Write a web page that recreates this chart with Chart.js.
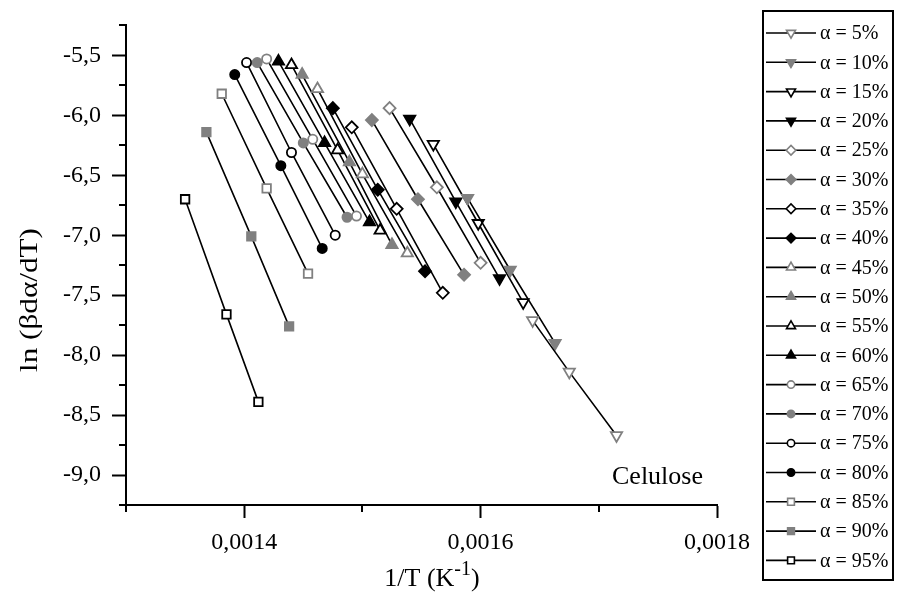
<!DOCTYPE html>
<html>
<head>
<meta charset="utf-8">
<script src="https://cdn.jsdelivr.net/npm/chart.js@4.4.1/dist/chart.umd.min.js"></script>
<style>
  html, body { margin: 0; background: #fff; }
  #wrap { width: 898px; height: 594px; position: relative; }
</style>
</head>
<body>
<div id="wrap"><canvas id="c"></canvas></div>
<script>
"use strict";
// Friedman plot, cellulose: ln(beta*dα/dT) vs 1/T for each conversion level.

const ALPHA_PCT = [5, 10, 15, 20, 25, 30, 35, 40, 45, 50, 55, 60, 65, 70, 75, 80, 85, 90, 95];

// 1/T (K^-1), three heating rates per conversion level
const INV_T = [
  [0.001644, 0.001675, 0.001715],
  [0.001589, 0.001625, 0.001663],
  [0.001560, 0.001598, 0.001636],
  [0.001540, 0.001579, 0.001616],
  [0.001523, 0.001563, 0.001600],
  [0.001508, 0.001547, 0.001586],
  [0.001491, 0.001529, 0.001568],
  [0.001475, 0.001513, 0.001553],
  [0.001462, 0.001500, 0.001538],
  [0.001449, 0.001489, 0.001525],
  [0.001440, 0.001479, 0.001515],
  [0.001429, 0.001468, 0.001506],
  [0.001419, 0.001458, 0.001495],
  [0.001411, 0.001450, 0.001487],
  [0.001402, 0.001440, 0.001477],
  [0.001392, 0.001431, 0.001466],
  [0.001381, 0.001419, 0.001454],
  [0.001368, 0.001406, 0.001438],
  [0.001350, 0.001385, 0.001412],
];

// ln(beta dα/dT)
const LN_RATE = [
  [-7.71, -8.14, -8.67],
  [-6.69, -7.29, -7.90],
  [-6.24, -6.90, -7.56],
  [-6.03, -6.72, -7.36],
  [-5.94, -6.60, -7.23],
  [-6.04, -6.70, -7.33],
  [-6.10, -6.78, -7.48],
  [-5.94, -6.62, -7.30],
  [-5.78, -6.49, -7.15],
  [-5.66, -6.39, -7.08],
  [-5.58, -6.29, -6.96],
  [-5.55, -6.23, -6.89],
  [-5.53, -6.20, -6.84],
  [-5.56, -6.23, -6.85],
  [-5.56, -6.31, -7.00],
  [-5.66, -6.42, -7.11],
  [-5.82, -6.61, -7.32],
  [-6.14, -7.01, -7.76],
  [-6.70, -7.66, -8.39],
];

const X_MAJOR = [0.0014, 0.0016, 0.0018];
const X_MINOR = [0.0013, 0.0015, 0.0017];
const Y_MAJOR = [-9.0, -8.5, -8.0, -7.5, -7.0, -6.5, -6.0, -5.5];
const Y_MINOR = [-9.25, -8.75, -8.25, -7.75, -7.25, -6.75, -6.25, -5.75, -5.25];

// marker shape per level (fill / gray alternate in fours)
const SHAPES = ["down", "down", "down", "down", "diamond", "diamond", "diamond", "diamond",
  "up", "up", "up", "up", "circle", "circle", "circle", "circle", "square", "square", "square"];

const SERIF = "'Liberation Serif', 'Times New Roman', serif";
const GRAY = "#808080";

const SHAPE_STYLE = {
  down:    { pointStyle: "triangle", rotation: 180, radius: 6.5 },
  up:      { pointStyle: "triangle", rotation: 0,   radius: 6.5 },
  diamond: { pointStyle: "rectRot",  rotation: 0,   radius: 6 },
  circle:  { pointStyle: "circle",   rotation: 0,   radius: 4.6 },
  square:  { pointStyle: "rect",     rotation: 0,   radius: 6 },
};

const datasets = ALPHA_PCT.map((a, i) => {
  const s = SHAPE_STYLE[SHAPES[i]];
  const gray = i % 4 < 2;
  const filled = i % 2 === 1;
  const col = gray ? GRAY : "#000";
  return {
    label: `α = ${a}%`,
    data: INV_T[i].map((x, k) => ({ x, y: LN_RATE[i][k] })),
    borderColor: "#000",
    borderWidth: 1.6,
    showLine: true,
    pointStyle: s.pointStyle,
    pointRotation: s.rotation,
    pointRadius: s.radius,
    pointBorderWidth: 1.8,
    pointBorderColor: col,
    pointBackgroundColor: filled ? col : "#fff",
    pointHoverRadius: s.radius,
  };
});

const fmt = (v, d) => v.toFixed(d).replace(".", ",");

// minor ticks, axis titles, label and framed legend
const decorations = {
  id: "decorations",
  afterDraw(chart) {
    const { ctx, scales: { x, y } } = chart;
    ctx.save();
    ctx.strokeStyle = "#000";
    ctx.lineWidth = 2;
    ctx.beginPath();
    for (const v of X_MINOR) {
      const px = Math.round(x.getPixelForValue(v));
      ctx.moveTo(px, y.bottom); ctx.lineTo(px, y.bottom + 7);
    }
    for (const v of Y_MINOR) {
      const py = Math.round(y.getPixelForValue(v));
      ctx.moveTo(x.left, py); ctx.lineTo(x.left - 7, py);
    }
    ctx.stroke();

    ctx.fillStyle = "#000";
    // y title (source artwork runs long along the text)
    ctx.save();
    ctx.translate(30, 300);
    ctx.rotate(-Math.PI / 2);
    ctx.scale(1.2, 1);
    ctx.font = `26px ${SERIF}`;
    ctx.textAlign = "center";
    ctx.textBaseline = "middle";
    ctx.fillText("ln (βdα/dT)", 0, 0);
    ctx.restore();

    // x title with superscript
    ctx.textBaseline = "alphabetic";
    ctx.textAlign = "left";
    const big = `26px ${SERIF}`, small = `20px ${SERIF}`;
    ctx.font = big; const w1 = ctx.measureText("1/T (K").width; const w3 = ctx.measureText(")").width;
    ctx.font = small; const w2 = ctx.measureText("-1").width;
    let tx = 432 - (w1 + w2 + w3) / 2;
    const base = 586;
    ctx.font = big; ctx.fillText("1/T (K", tx, base); tx += w1;
    ctx.font = small; ctx.fillText("-1", tx, base - 11); tx += w2;
    ctx.font = big; ctx.fillText(")", tx, base);

    ctx.font = `26px ${SERIF}`;
    ctx.fillText("Celulose", 612, 484);

    // legend
    ctx.lineWidth = 2;
    ctx.strokeRect(763, 11, 130, 569);
    ctx.font = `20px ${SERIF}`;
    ctx.textBaseline = "middle";
    chart.data.datasets.forEach((ds, i) => {
      const ly = 33 + i * 29.3;
      ctx.beginPath();
      ctx.moveTo(766, ly); ctx.lineTo(816, ly);
      ctx.strokeStyle = "#000"; ctx.lineWidth = 1.6; ctx.stroke();
      ctx.strokeStyle = ds.pointBorderColor;
      ctx.fillStyle = ds.pointBackgroundColor;
      ctx.lineWidth = 1.6;
      Chart.helpers.drawPoint(ctx, {
        pointStyle: ds.pointStyle, rotation: ds.pointRotation,
        radius: ds.pointRadius * 0.8, borderWidth: 1.6,
      }, 791, ly);
      ctx.fillStyle = "#000";
      ctx.fillText(ds.label, 820, ly + 1);
    });
    ctx.restore();
  },
};

new Chart(document.getElementById("c"), {
  type: "scatter",
  data: { datasets },
  options: {
    responsive: true, maintainAspectRatio: false, animation: false,
    layout: { padding: { top: 25, right: 181, left: 0, bottom: 0 } },
    scales: {
      x: {
        type: "linear", min: 0.0013, max: 0.0018,
        afterBuildTicks: (s) => { s.ticks = X_MAJOR.map(v => ({ value: v })); },
        afterFit: (s) => { s.height = 89; },
        ticks: { callback: (v) => fmt(v, 4), color: "#000", font: { family: SERIF, size: 24 }, padding: 10, maxRotation: 0 },
        grid: { drawOnChartArea: false, drawTicks: true, tickLength: 13, tickWidth: 2, tickColor: "#000" },
        border: { color: "#000", width: 2 },
      },
      y: {
        type: "linear", min: -9.25, max: -5.25,
        afterBuildTicks: (s) => { s.ticks = Y_MAJOR.map(v => ({ value: v })); },
        afterFit: (s) => { s.width = 126; },
        ticks: { callback: (v) => fmt(v, 1), color: "#000", font: { family: SERIF, size: 24 }, padding: 11 },
        grid: { drawOnChartArea: false, drawTicks: true, tickLength: 14, tickWidth: 2, tickColor: "#000" },
        border: { color: "#000", width: 2 },
      },
    },
    plugins: { legend: { display: false }, tooltip: { enabled: false } },
  },
  plugins: [decorations],
});
</script>
</body>
</html>
